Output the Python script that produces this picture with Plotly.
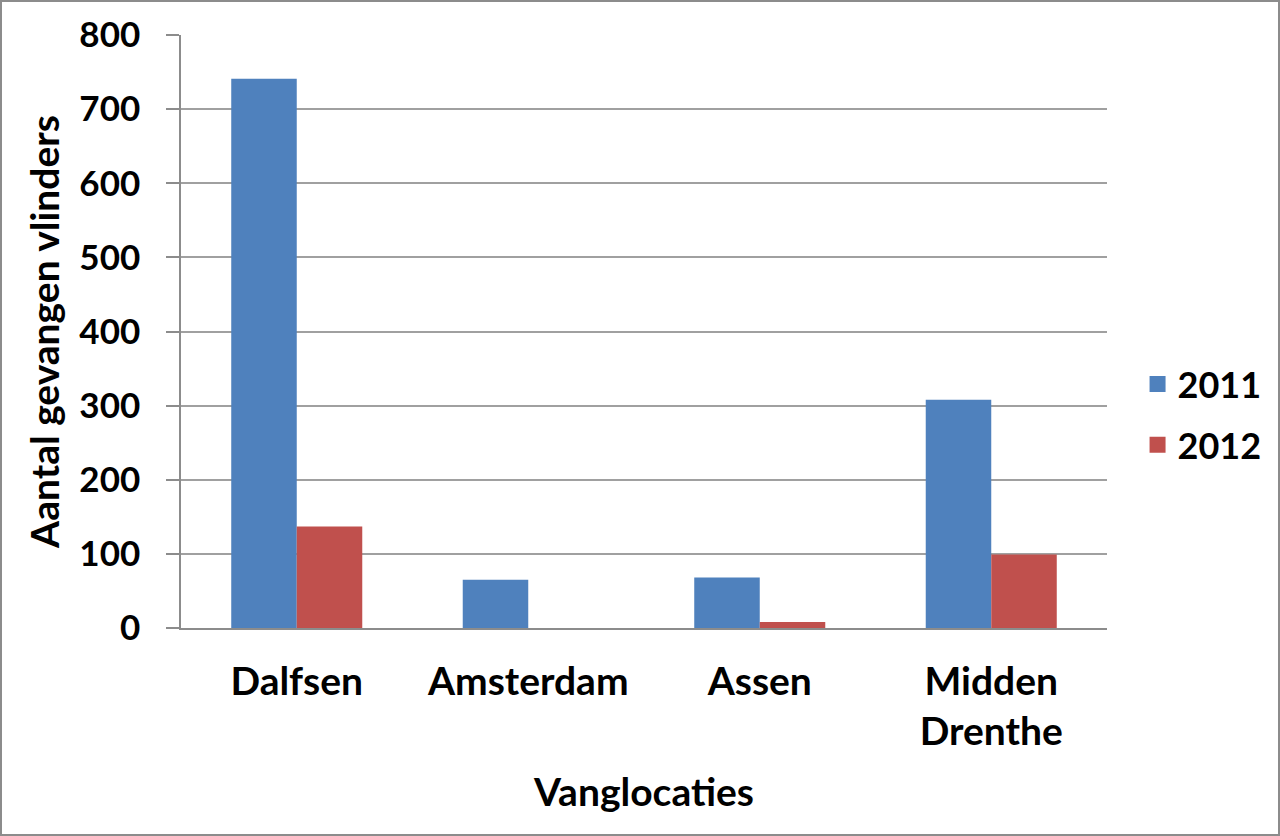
import plotly.graph_objects as go

categories = ["Dalfsen", "Amsterdam", "Assen", "Midden<br>Drenthe"]
series_names = ["2011", "2012"]
values_2011 = [741, 65, 68, 308]
values_2012 = [137, 0, 8, 99]
y_ticks = [0, 100, 200, 300, 400, 500, 600, 700, 800]

colors = ["#4F81BD", "#C0504D"]
FONT = "Lato"

W, H = 1280, 836
ML, MR, MT, MB = 181, 173, 35, 208
PW = W - ML - MR
PH = H - MT - MB

fig = go.Figure()
for name, vals, col in zip(series_names, [values_2011, values_2012], colors):
    fig.add_trace(go.Bar(x=categories, y=vals, name=name, showlegend=False,
                         legendgroup=name,
                         marker=dict(color=col, line=dict(width=0))))
# legend entries with larger square swatches
for name, col in zip(series_names, colors):
    fig.add_trace(go.Scatter(x=[None], y=[None], name=name, mode="markers",
                             legendgroup=name,
                             marker=dict(symbol="square", size=22, color=col),
                             hoverinfo="skip"))

# outer frame of the picture
x0 = -ML / PW
x1 = 1 + MR / PW
y0 = -MB / PH
y1 = 1 + MT / PH
fig.add_shape(type="rect", xref="paper", yref="paper",
              x0=x0 + 1 / PW, x1=x1 - 1 / PW, y0=y0 + 1 / PH, y1=y1 - 1 / PH,
              line=dict(color="#8c8c8c", width=2), layer="below")

fig.update_layout(
    width=W, height=H,
    margin=dict(l=ML, r=MR, t=MT, b=MB, autoexpand=False),
    paper_bgcolor="white", plot_bgcolor="white",
    barmode="group", bargap=0.434, bargroupgap=0,
    font=dict(family=FONT, size=36, color="black"),
    showlegend=True,
    legend=dict(x=1.033, y=0.36, xanchor="left", yanchor="middle",
                font=dict(family=FONT, size=36, color="black", weight="bold"),
                itemsizing="trace", tracegroupgap=11,
                bgcolor="rgba(0,0,0,0)"),
    xaxis=dict(
        title=dict(text="Vanglocaties", standoff=26,
                   font=dict(family=FONT, size=39, color="black", weight="bold")),
        tickfont=dict(family=FONT, size=39, color="black", weight="bold"),
        showline=True, linecolor="#8c8c8c", linewidth=1.5,
        ticks="", showgrid=False, ticklabelstandoff=18,
    ),
    yaxis=dict(
        title=dict(text="Aantal gevangen vlinders", standoff=8,
                   font=dict(family=FONT, size=39, color="black", weight="bold")),
        tickfont=dict(family=FONT, size=35, color="black", weight="bold"),
        range=[0, 800], tickvals=y_ticks,
        showline=True, linecolor="#8c8c8c", linewidth=1.5,
        ticks="outside", ticklen=13, tickcolor="#8c8c8c", tickwidth=1.5,
        showgrid=True, gridcolor="#a0a0a0", gridwidth=1.5,
        zeroline=False, ticklabelstandoff=19,
    ),
)

fig.write_html("out.html", config={"displayModeBar": False},
               post_script="document.body.style.margin='0';")
